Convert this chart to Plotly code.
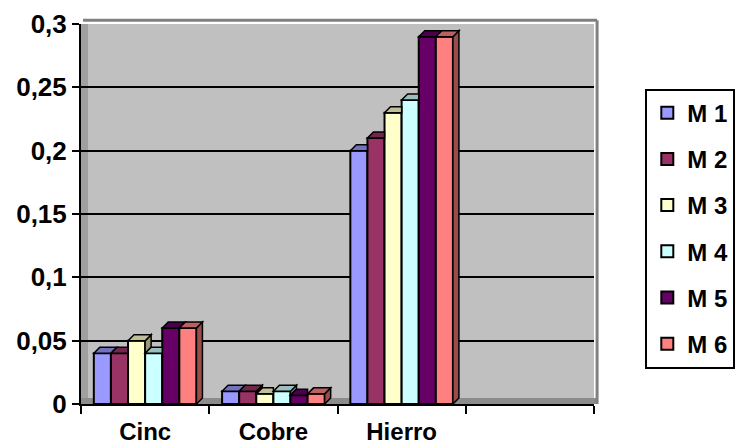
import plotly.graph_objects as go

# Concentraciones por metal (Cinc, Cobre, Hierro) para cada muestra M 1 .. M 6
categories = ["Cinc", "Cobre", "Hierro"]
series_names = ["M 1", "M 2", "M 3", "M 4", "M 5", "M 6"]
m1 = [0.04, 0.010, 0.20]
m2 = [0.04, 0.010, 0.21]
m3 = [0.05, 0.008, 0.23]
m4 = [0.04, 0.010, 0.24]
m5 = [0.06, 0.007, 0.29]
m6 = [0.06, 0.008, 0.29]
series_values = [m1, m2, m3, m4, m5, m6]
colors = ["#9999FF", "#993366", "#FFFFCC", "#CCFFFF", "#660066", "#FF8080"]

y_ticks = [0, 0.05, 0.1, 0.15, 0.2, 0.25, 0.3]
y_tick_text = ["0", "0,05", "0,1", "0,15", "0,2", "0,25", "0,3"]

FONT = "Arial, 'Liberation Sans', sans-serif"

# layout geometry
W, H = 736, 448
M_L, M_R, M_T, M_B = 81, 142, 24, 44
Y_MAX = 0.3
X_RANGE = [-0.5, 3.5]          # three categories plus one empty slot
BARGAP = 0.2
DEPTH = 6                      # pseudo-3D depth of each column, px

plot_w = W - M_L - M_R
plot_h = H - M_T - M_B
n = len(series_names)
bar_w = (1 - BARGAP) / n                       # bar width in category units
bar_px = bar_w * plot_w / (X_RANGE[1] - X_RANGE[0])
depth_y = DEPTH * Y_MAX / plot_h               # depth expressed in value units

positions = list(range(len(categories)))


def shade(hex_col, f):
    r, g, b = (int(hex_col[i:i + 2], 16) for i in (1, 3, 5))
    return "#%02x%02x%02x" % (int(r * f), int(g * f), int(b * f))


fig = go.Figure()
for name, vals, col in zip(series_names, series_values, colors):
    fig.add_trace(go.Bar(
        x=positions, y=vals, name=name, legendgroup=name,
        marker=dict(color=col, line=dict(color="black", width=2)),
    ))

# top and side faces giving the columns their depth
side_faces, top_faces = [], []
for ci, pos in enumerate(positions):
    for si in range(n):
        v = series_values[si][ci]
        nxt = series_values[si + 1][ci] if si + 1 < n else 0.0
        cx = pos - (1 - BARGAP) / 2 + (si + 0.5) * bar_w
        hw = bar_px / 2
        col = colors[si]
        if nxt < v:
            side_faces.append(dict(
                type="path", xref="x", yref="y", xsizemode="pixel", xanchor=cx,
                path=f"M {hw},{v} L {hw + DEPTH},{v + depth_y} L {hw + DEPTH},{nxt + depth_y} L {hw},{nxt} Z",
                fillcolor=shade(col, 0.6), line=dict(color="black", width=1.5), layer="above",
            ))
        right = hw + DEPTH if nxt <= v else hw
        top_faces.append(dict(
            type="path", xref="x", yref="y", xsizemode="pixel", xanchor=cx,
            path=f"M {-hw},{v} L {-hw + DEPTH},{v + depth_y} L {right},{v + depth_y} L {hw},{v} Z",
            fillcolor=shade(col, 0.75), line=dict(color="black", width=1.5), layer="above",
        ))

wall_x = 7 / plot_w
floor_y = 6 / plot_h
walls = [
    # side wall on the left and floor strip of the chart box
    dict(type="rect", xref="paper", yref="paper", x0=0, x1=wall_x, y0=0, y1=1,
         fillcolor="#A0A0A0", line=dict(width=0), layer="between"),
    dict(type="rect", xref="paper", yref="paper", x0=0, x1=1.006, y0=0, y1=floor_y,
         fillcolor="#8C8C8C", line=dict(width=0), layer="between"),
    # gray frame of the back wall along the top and right edges
    dict(type="line", xref="paper", yref="paper", x0=0.004, x1=1.006, y0=1.01, y1=1.01,
         line=dict(color="#808080", width=3), layer="above"),
    dict(type="line", xref="paper", yref="paper", x0=1.006, x1=1.006, y0=0.0, y1=1.01,
         line=dict(color="#808080", width=3), layer="above"),
]

fig.update_layout(
    width=W, height=H,
    margin=dict(l=M_L, r=M_R, t=M_T, b=M_B, autoexpand=False),
    paper_bgcolor="white",
    plot_bgcolor="#C0C0C0",
    barmode="group",
    bargap=BARGAP,
    bargroupgap=0,
    font=dict(family=FONT, size=26, color="black"),
    showlegend=True,
    legend=dict(
        x=1.10, y=0.83, xanchor="left", yanchor="top",
        bgcolor="white", bordercolor="black", borderwidth=2,
        font=dict(family=FONT, size=24, color="black", weight="bold"),
        traceorder="grouped", tracegroupgap=12,
        itemclick=False,
    ),
    xaxis=dict(
        range=X_RANGE,
        tickvals=positions, ticktext=categories,
        ticks="", showgrid=False, zeroline=False,
        showline=True, linecolor="black", linewidth=2,
        tickfont=dict(family=FONT, size=24, weight="bold"),
        ticklabelstandoff=5,
        minor=dict(tickvals=[-0.5, 0.5, 1.5, 2.5, 3.5], ticks="outside",
                   ticklen=8, tickwidth=2, tickcolor="black", showgrid=False),
        fixedrange=True,
    ),
    yaxis=dict(
        range=[0, Y_MAX],
        tickvals=y_ticks, ticktext=y_tick_text,
        ticks="outside", ticklen=7, tickwidth=2, tickcolor="black",
        showgrid=True, gridcolor="black", gridwidth=2,
        zeroline=False,
        showline=True, linecolor="black", linewidth=2,
        tickfont=dict(family=FONT, size=26, weight="bold"),
        fixedrange=True,
    ),
    shapes=walls[:2] + side_faces + top_faces + walls[2:],
)

fig.write_html("out.html", config={"displayModeBar": False})
